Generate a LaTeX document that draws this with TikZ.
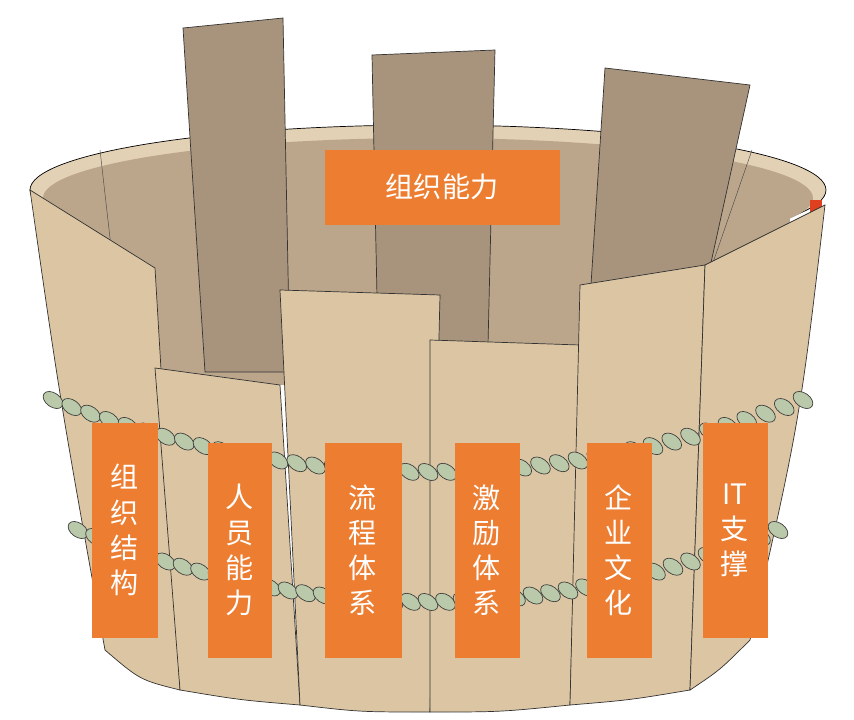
\documentclass[tikz,border=0pt]{standalone}
\usepackage{fontspec}
\newfontfamily\cjk{Noto Sans CJK SC}
\definecolor{tag}{HTML}{EC7D31}
\definecolor{stave}{HTML}{DCC5A2}
\definecolor{backstave}{HTML}{A8937D}
\definecolor{inner}{HTML}{BBA68C}
\definecolor{rope}{HTML}{B9C9A9}
\begin{document}
\begin{tikzpicture}[x=0.03cm,y=-0.03cm,
  tag/.style = {fill=tag, text=white, font=\cjk\fontsize{24}{30}\selectfont, inner sep=0pt, align=center},
  front/.style = {fill=stave, draw=black!80, line width=0.6pt},
  back/.style = {fill=backstave, draw=black!80, line width=0.6pt},
  knot/.style = {fill=rope, draw=black!75, line width=0.6pt}]
\useasboundingbox[fill=white] (0,0) rectangle (854,720);
% inside of the bucket
\draw[line width=0.6pt, fill=stave!80] (428,190) ellipse[x radius=398, y radius=65];
\fill[inner] (428,198) ellipse[x radius=385, y radius=60];
\fill[inner] (60,198) rectangle (790,385);
% back staves
\draw[back] (183,28) -- (283,18) -- (290,372) -- (205,372) -- cycle;
\draw[back] (372,55) -- (495,50) -- (488,345) -- (378,345) -- cycle;
\draw[back] (605,68) -- (750,85) -- (705,290) -- (590,300) -- cycle;
\draw[black!70] (100,150) -- (125,370);
\draw[black!70] (752,150) -- (700,300);
\fill[red!50!brown] (810,200) rectangle (822,222);
% front staves
\draw[front] (30,190) -- (155,268) -- (180,690) .. controls (140,680) .. (105,650) .. controls (60,400) .. cycle;
\draw[front] (155,368) -- (280,385) -- (300,705) .. controls (240,700) .. (180,690) -- cycle;
\draw[front] (280,290) -- (440,295) -- (430,712) .. controls (360,712) .. (300,705) -- cycle;
\draw[front] (430,340) -- (580,345) -- (570,705) .. controls (500,712) .. (430,712) -- cycle;
\draw[front] (580,285) -- (705,265) -- (690,690) .. controls (630,700) .. (570,705) -- cycle;
\draw[front] (705,265) -- (825,205) .. controls (800,420) .. (750,640) .. controls (720,670) .. (690,690) -- cycle;
% ropes
\foreach \i in {0,...,40}{
  \pgfmathsetmacro{\t}{-1+\i/20}
  \pgfmathsetmacro{\xa}{428+375*\t}
  \draw[knot, rotate around={-35:(\xa,{472-72*\t*\t})}] (\xa,{472-72*\t*\t}) ellipse[x radius=11, y radius=7];
  \pgfmathsetmacro{\xb}{428+350*\t}
  \draw[knot, rotate around={-35:(\xb,{602-72*\t*\t})}] (\xb,{602-72*\t*\t}) ellipse[x radius=11, y radius=7];
}
% labels
\node[tag, minimum width=235*0.03cm, minimum height=75*0.03cm] (ability) at (442,187) {组织能力};
\node[tag, minimum width=66*0.03cm, minimum height=215*0.03cm] (structure) at (125,530) {组\\织\\结\\构};
\node[tag, minimum width=64*0.03cm, minimum height=215*0.03cm] (people) at (240,550) {人\\员\\能\\力};
\node[tag, minimum width=77*0.03cm, minimum height=215*0.03cm] (process) at (363,550) {流\\程\\体\\系};
\node[tag, minimum width=65*0.03cm, minimum height=215*0.03cm] (incentive) at (487,550) {激\\励\\体\\系};
\node[tag, minimum width=65*0.03cm, minimum height=215*0.03cm] (culture) at (619,550) {企\\业\\文\\化};
\node[tag, minimum width=65*0.03cm, minimum height=215*0.03cm] (support) at (735,530) {IT\\支\\撑};
\end{tikzpicture}
\end{document}
